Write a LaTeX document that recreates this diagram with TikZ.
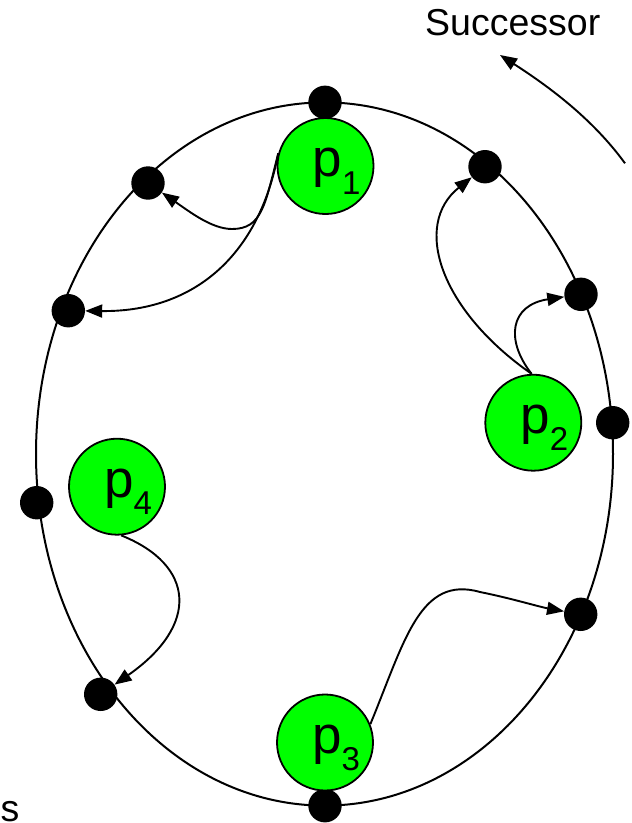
\documentclass[tikz,border=0pt]{standalone}
\usepackage{fontspec}
\setmainfont{Liberation Sans}
\usetikzlibrary{arrows.meta,calc}
\begin{document}
\begin{tikzpicture}[x=1pt,y=-1pt,
  ring/.style={draw=black,line width=2pt},
  dotnode/.style={circle,fill=black,draw=none,minimum size=33.4pt,inner sep=0pt},
  peer/.style={circle,fill=green,draw=black,line width=1.8pt,minimum size=96pt,inner sep=0pt},
  plabel/.style={anchor=base west,inner sep=0pt,font=\fontsize{53}{53}\selectfont},
  conn/.style={draw=black,line width=1.9pt,-{Triangle[length=17pt,width=13pt]}},
  txt/.style={anchor=base west,inner sep=0pt,font=\fontsize{37.5}{37.5}\selectfont}]
\useasboundingbox (0,0) rectangle (632,823);
% ring
\draw[ring] (324.5,454) ellipse [x radius=288.5, y radius=351.6];
% dots
\node[dotnode] (d1) at (325,102.3) {};
\node[dotnode] (d2) at (148,183) {};
\node[dotnode] (d3) at (485,166.7) {};
\node[dotnode] (d4) at (68.3,310.7) {};
\node[dotnode] (d5) at (581,294.3) {};
\node[dotnode] (d6) at (612.7,422.7) {};
\node[dotnode] (d7) at (36.7,502.7) {};
\node[dotnode] (d8) at (580.7,614.3) {};
\node[dotnode] (d9) at (100.7,694.3) {};
\node[dotnode] (d10) at (325,805.7) {};
% peers
\node[peer] (p1) at (325.5,166) {};
\node[peer] (p2) at (533.3,422.7) {};
\node[peer] (p3) at (325,742.5) {};
\node[peer] (p4) at (117,486.7) {};
\newcommand{\plab}[1]{p\raisebox{-17.5pt}{\fontsize{33}{33}\selectfont #1}}
\node[plabel] (t1) at ($(p1.center)+(-13,10.5)$) {\plab{1}};
\node[plabel] (t2) at ($(p2.center)+(-13,10.5)$) {\plab{2}};
\node[plabel] (t3) at ($(p3.center)+(-13,10.5)$) {\plab{3}};
\node[plabel] (t4) at ($(p4.center)+(-13,10.5)$) {\plab{4}};
% connectors
\draw[conn] (p1.165) .. controls (265,205) and (262,229) .. (232,229)
  .. controls (212,229) and (190,212) .. (d2);
\draw[conn] (p1.165) .. controls (258,260) and (190,312) .. (d4);
\draw[conn] (p2.92) .. controls (440,310) and (412,225) .. (d3);
\draw[conn] (p2.92) .. controls (505,340) and (510,305) .. (d5);
\draw[conn] (p3.22) .. controls (405,640) and (420,575) .. (480,592)
  .. controls (510,598) and (540,607) .. (d8);
\draw[conn] (p4.-85) .. controls (195,565) and (200,625) .. (d9);
% successor
\coordinate (sa) at (625,163.3);
\coordinate (sb) at (500,55);
\draw[conn] (sa) .. controls (592,118) and (548,86) .. (sb);
\node[txt] (succ) at (425,35.5) {Successor};
\node[txt] (cut) at (0.5,821.5) {s};
\end{tikzpicture}
\end{document}
